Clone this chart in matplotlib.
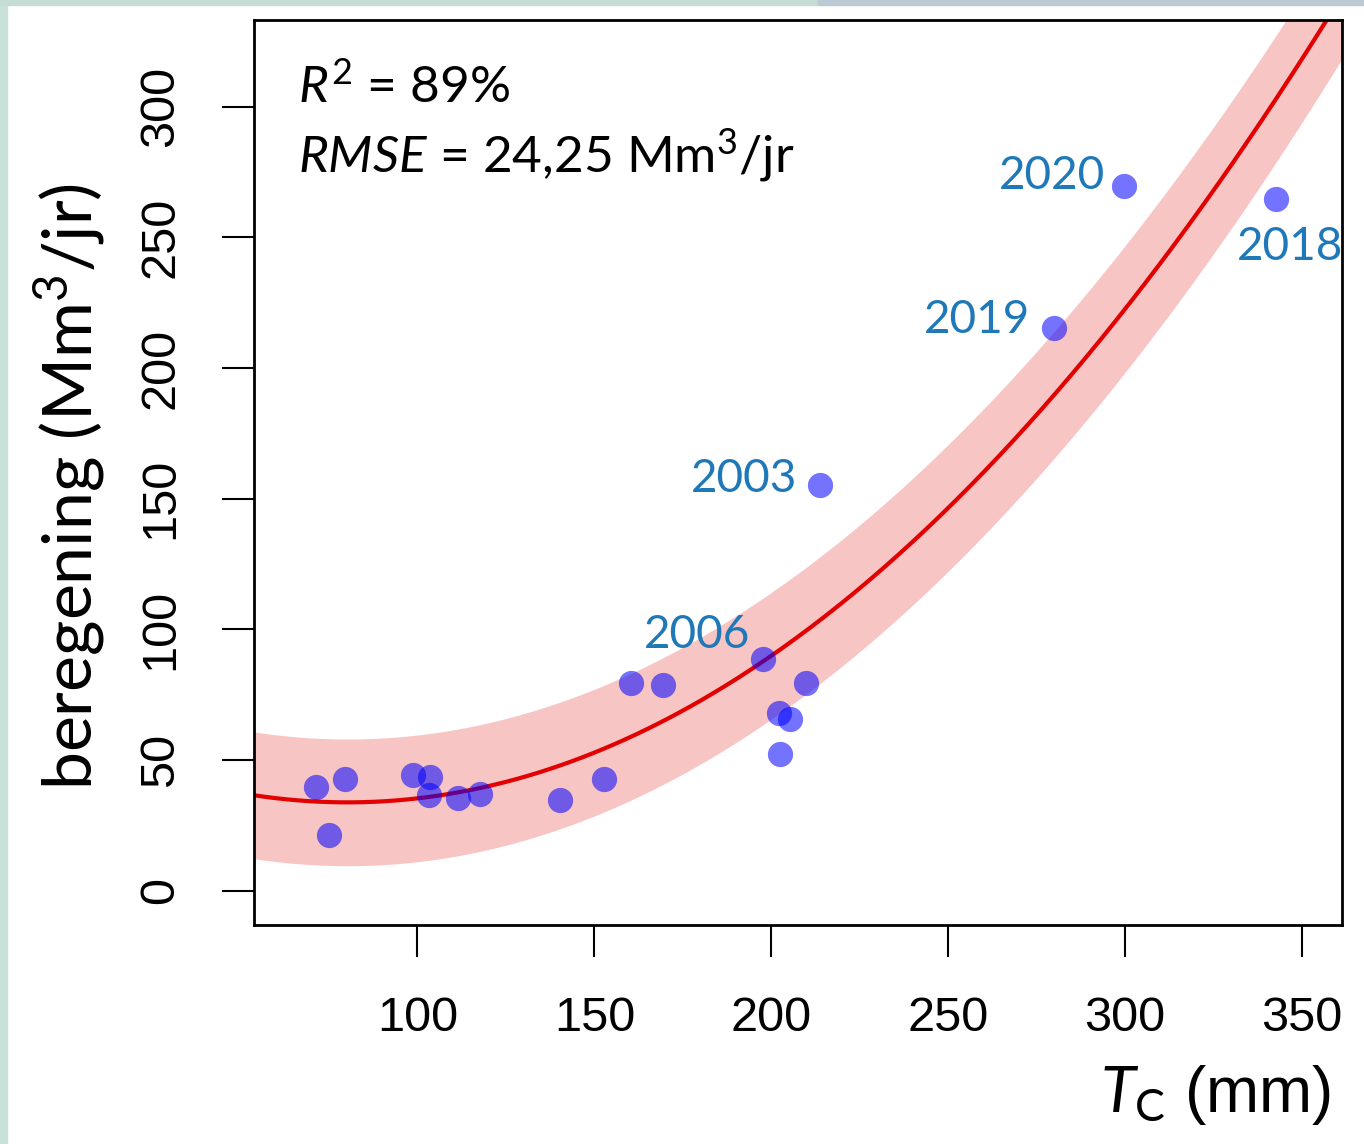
import numpy as np
import matplotlib.pyplot as plt
from matplotlib.patches import Rectangle

# Data
tc_mm = [71.3, 79.5, 75.0, 98.7, 103.5, 103.2, 111.4, 117.6, 140.2, 152.7,
         160.3, 169.4, 197.6, 209.8, 202.2, 205.3, 202.4, 213.7, 279.9, 299.7, 342.6]
beregening = [39.8, 42.5, 21.4, 44.4, 43.3, 36.4, 35.6, 36.8, 34.8, 42.5,
              79.6, 78.8, 88.8, 79.6, 68.1, 65.8, 52.4, 155.1, 215.2, 269.5, 264.5]
labels = {12: "2006", 17: "2003", 18: "2019", 19: "2020", 20: "2018"}
rmse = 24.25
r2 = 89
x_ticks = [100, 150, 200, 250, 300, 350]
y_ticks = [0, 50, 100, 150, 200, 250, 300]

# label offsets in pixels (layout only)
label_offset = {12: (-13, 24, "right"), 17: (-23, 6, "right"), 18: (-24, 8, "right"),
                19: (-19, 10, "right"), 20: (14, -48, "center")}

plt.rcParams["mathtext.fontset"] = "custom"
plt.rcParams["mathtext.rm"] = "Lato"
plt.rcParams["mathtext.it"] = "Lato:italic"

fig = plt.figure(figsize=(13.64, 11.44), dpi=100)
ax = fig.add_axes([254 / 1364, 1 - 925 / 1144, 1088 / 1364, 905 / 1144])

# the greenish frame of the slide on the left and at the top
fig.patches.append(Rectangle((0, 0), 7 / 1364, 1, transform=fig.transFigure,
                             color="#c9e2d9", zorder=-1))
fig.patches.append(Rectangle((0, 1 - 5 / 1144), 0.6, 5 / 1144, transform=fig.transFigure,
                             color="#c4dcd4", zorder=-1))
fig.patches.append(Rectangle((0.6, 1 - 5 / 1144), 0.4, 5 / 1144, transform=fig.transFigure,
                             color="#bccbd3", zorder=-1))

xlim = (53.8, 361.3)
ylim = (-13.2, 333.2)

# quadratic fit with +- RMSE band
coef = np.polyfit(tc_mm, beregening, 2)
xs = np.linspace(xlim[0], xlim[1], 300)
ys = np.polyval(coef, xs)
ax.fill_between(xs, ys - rmse, ys + rmse, color="#f8c5c5", lw=0, zorder=1)
ax.plot(xs, ys, color="#e30000", lw=3, zorder=2)

ax.scatter(tc_mm, beregening, s=330, color="blue", alpha=0.55, lw=0, zorder=3)

for i, txt in labels.items():
    dx, dy, ha = label_offset[i]
    ax.annotate(txt, (tc_mm[i], beregening[i]), xytext=(dx, dy),
                textcoords="offset pixels", ha=ha, va="center",
                fontsize=33, family="Lato", color="#1f78b8", zorder=4)

ax.text(0.04, 0.925, r"$\mathit{R}^2$ = %d%%" % r2, transform=ax.transAxes,
        fontsize=37, family="Lato", va="center", ha="left")
ax.text(0.04, 0.85, r"$\mathit{RMSE}$ = %s Mm$^3$/jr" % f"{rmse:.2f}".replace(".", ","),
        transform=ax.transAxes, fontsize=37, family="Lato", va="center", ha="left")

ax.set_xlim(*xlim)
ax.set_ylim(*ylim)
ax.set_xticks(x_ticks)
ax.set_yticks(y_ticks)
ax.set_xticklabels([str(v) for v in x_ticks], family="Liberation Sans", fontsize=35)
ax.set_yticklabels([str(v) for v in y_ticks], family="Liberation Sans", fontsize=35,
                   rotation=90, va="center")
ax.tick_params(length=23, width=1.5, direction="out", pad=28)
for sp in ax.spines.values():
    sp.set_linewidth(2)

ax.set_xlabel(r"$T_\mathrm{C}$ (mm)", family="Liberation Sans", fontsize=46, ha="right")
ax.xaxis.set_label_coords(0.99, -0.152)
ax.set_ylabel("beregening (Mm$^3$/jr)", family="Lato", fontsize=49, va="center")
ax.yaxis.set_label_coords(-0.17, 0.484)

fig.savefig("out.png", dpi=100)
